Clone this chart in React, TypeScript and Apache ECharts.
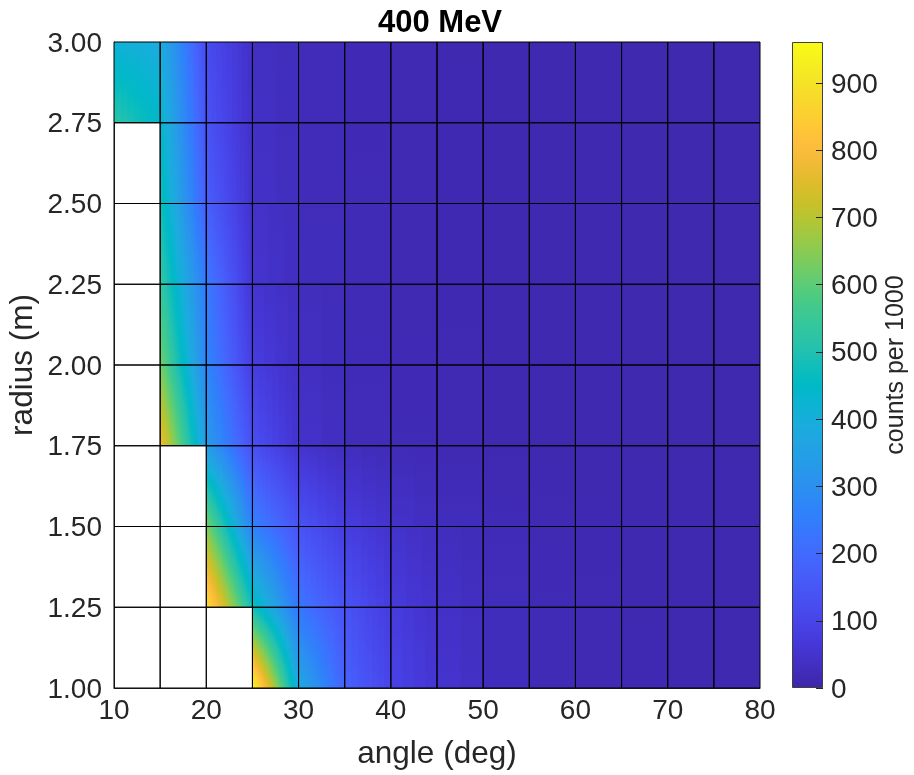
import React, { useEffect, useRef } from "react";
import * as echarts from "echarts";

// ---- data (vertex values, counts per 1000) ----
const angles = [10, 15, 20, 25, 30, 35, 40, 45, 50, 55, 60, 65, 70, 75, 80];
const radii = [1.0, 1.25, 1.5, 1.75, 2.0, 2.25, 2.5, 2.75, 3.0];
const N = null;
const r100 = [N, N, N, 960, 380, 180, 100, 55, 32, 22, 16, 13, 11, 10, 10];
const r125 = [N, N, 900, 480, 230, 140, 75, 45, 28, 20, 15, 12, 11, 10, 10];
const r150 = [N, N, 640, 260, 140, 80, 48, 30, 21, 16, 13, 11, 10, 10, 9];
const r175 = [N, 790, 340, 130, 50, 28, 19, 15, 12, 11, 10, 9, 9, 9, 9];
const r200 = [N, 630, 270, 80, 36, 22, 17, 14, 12, 11, 10, 9, 9, 9, 9];
const r225 = [N, 540, 240, 55, 30, 20, 16, 13, 12, 11, 10, 9, 9, 9, 9];
const r250 = [N, 480, 170, 45, 27, 19, 15, 13, 11, 10, 10, 9, 9, 9, 9];
const r275 = [520, 440, 140, 40, 25, 18, 15, 13, 11, 10, 10, 9, 9, 9, 9];
const r300 = [410, 390, 120, 38, 24, 18, 14, 12, 11, 10, 10, 9, 9, 9, 9];
const rows = [r100, r125, r150, r175, r200, r225, r250, r275, r300];
const cMax = 961;
const cbTicks = [0, 100, 200, 300, 400, 500, 600, 700, 800, 900];

// parula colormap (MATLAB)
const PARULA = [
  [0.2422,0.1504,0.6603],[0.2504,0.1650,0.7076],[0.2578,0.1818,0.7511],[0.2647,0.1978,0.7952],
  [0.2706,0.2147,0.8364],[0.2751,0.2342,0.8710],[0.2783,0.2559,0.8991],[0.2803,0.2782,0.9221],
  [0.2813,0.3006,0.9414],[0.2810,0.3228,0.9579],[0.2795,0.3447,0.9717],[0.2760,0.3667,0.9829],
  [0.2699,0.3892,0.9906],[0.2602,0.4123,0.9952],[0.2440,0.4358,0.9988],[0.2206,0.4603,0.9973],
  [0.1963,0.4847,0.9892],[0.1834,0.5074,0.9798],[0.1786,0.5289,0.9682],[0.1764,0.5499,0.9520],
  [0.1687,0.5703,0.9359],[0.1540,0.5902,0.9218],[0.1460,0.6091,0.9079],[0.1380,0.6276,0.8973],
  [0.1248,0.6459,0.8883],[0.1113,0.6635,0.8763],[0.0952,0.6798,0.8598],[0.0689,0.6948,0.8394],
  [0.0297,0.7082,0.8163],[0.0036,0.7203,0.7917],[0.0067,0.7312,0.7660],[0.0433,0.7411,0.7394],
  [0.0964,0.7500,0.7120],[0.1408,0.7584,0.6842],[0.1717,0.7670,0.6554],[0.1938,0.7758,0.6251],
  [0.2161,0.7843,0.5923],[0.2470,0.7918,0.5567],[0.2906,0.7973,0.5188],[0.3406,0.8008,0.4789],
  [0.3909,0.8029,0.4354],[0.4456,0.8024,0.3909],[0.5044,0.7993,0.3480],[0.5616,0.7942,0.3045],
  [0.6174,0.7876,0.2612],[0.6720,0.7793,0.2227],[0.7242,0.7698,0.1910],[0.7738,0.7598,0.1646],
  [0.8203,0.7498,0.1535],[0.8634,0.7406,0.1596],[0.9035,0.7330,0.1774],[0.9393,0.7288,0.2100],
  [0.9728,0.7298,0.2394],[0.9956,0.7434,0.2371],[0.9970,0.7659,0.2199],[0.9952,0.7893,0.2028],
  [0.9892,0.8136,0.1885],[0.9786,0.8386,0.1766],[0.9676,0.8639,0.1643],[0.9610,0.8890,0.1537],
  [0.9597,0.9135,0.1423],[0.9628,0.9373,0.1265],[0.9691,0.9606,0.1064],[0.9769,0.9839,0.0805],
];

function cmapT(t: number) {
  t = Math.max(0, Math.min(1, t));
  const p = t * (PARULA.length - 1);
  const i = Math.min(Math.floor(p), PARULA.length - 2);
  const f = p - i;
  const a = PARULA[i], b = PARULA[i + 1];
  const c = [0, 1, 2].map((k) => Math.round(255 * (a[k] + (b[k] - a[k]) * f)));
  return `rgb(${c[0]},${c[1]},${c[2]})`;
}
const cmap = (v: number) => cmapT(v / cMax);

const cells: number[][] = [];
for (let j = 0; j < radii.length - 1; j++) {
  for (let i = 0; i < angles.length - 1; i++) {
    cells.push([angles[i], radii[j], angles[i + 1], radii[j + 1], i, j]);
  }
}

const FONT = "'Liberation Sans', Arial, Helvetica, sans-serif";
const TXT = "#262626";

export default function App() {
  const ref = useRef<HTMLDivElement>(null);
  useEffect(() => {
    if (!ref.current) return;
    const chart = echarts.init(ref.current, undefined, { renderer: "svg" });

    const fillItem = (params: any, api: any) => {
      const a0 = api.value(0), r0 = api.value(1), a1 = api.value(2), r1 = api.value(3);
      const i = api.value(4), j = api.value(5);
      const v00 = rows[j][i], v10 = rows[j][i + 1], v01 = rows[j + 1][i], v11 = rows[j + 1][i + 1];
      if (v00 == null || v10 == null || v01 == null || v11 == null) return null;
      const p0 = api.coord([a0, r0]);
      const p1 = api.coord([a1, r1]);
      const x0 = p0[0], yb = p0[1], x1 = p1[0], yt = p1[1];
      const dx = Math.max(Math.abs(v10 - v00), Math.abs(v11 - v01));
      const ns = Math.max(1, Math.min(28, Math.ceil(dx / 12)));
      const w = (x1 - x0) / ns;
      const children: any[] = [];
      for (let k = 0; k < ns; k++) {
        const s = (k + 0.5) / ns;
        const vb = v00 + (v10 - v00) * s;
        const vt = v01 + (v11 - v01) * s;
        const m = Math.max(2, Math.min(14, Math.ceil(Math.abs(vt - vb) / 30)));
        const stops = [];
        for (let q = 0; q <= m; q++) {
          const t = q / m;
          stops.push({ offset: t, color: cmap(vb + (vt - vb) * t) });
        }
        children.push({
          type: "rect",
          shape: { x: x0 + k * w, y: yt, width: w + (k < ns - 1 ? 0.8 : 0), height: yb - yt },
          style: { fill: new echarts.graphic.LinearGradient(0, 1, 0, 0, stops) },
        });
      }
      return { type: "group", children };
    };

    const edgeItem = (params: any, api: any) => {
      const p0 = api.coord([api.value(0), api.value(1)]);
      const p1 = api.coord([api.value(2), api.value(3)]);
      return {
        type: "rect",
        shape: { x: p0[0], y: p1[1], width: p1[0] - p0[0], height: p0[1] - p1[1] },
        style: { fill: "none", stroke: "#000", lineWidth: 1 },
      };
    };

    const cbStops = [];
    for (let q = 0; q <= 32; q++) cbStops.push({ offset: q / 32, color: cmapT(q / 32) });

    chart.setOption({
      animation: false,
      textStyle: { fontFamily: FONT },
      title: {
        text: "400 MeV",
        left: 435,
        textAlign: "center",
        top: 1,
        textStyle: { fontFamily: FONT, fontSize: 31, fontWeight: "bold", color: "#000" },
      },
      grid: [
        { left: 114, top: 42, width: 646, height: 646, outerBoundsMode: "none", containLabel: false },
        { left: 792, top: 42, width: 31, height: 646, outerBoundsMode: "none", containLabel: false },
      ],
      xAxis: [
        {
          type: "value",
          gridIndex: 0,
          min: 10,
          max: 80,
          interval: 10,
          name: "angle (deg)",
          nameLocation: "middle",
          nameGap: 48,
          nameTextStyle: { fontSize: 31.5, color: TXT, fontFamily: FONT },
          axisLine: { show: true, onZero: false, lineStyle: { color: TXT } },
          axisTick: { show: false },
          splitLine: { show: false },
          axisLabel: { fontSize: 28, color: TXT, margin: 7, fontFamily: FONT },
        },
        {
          type: "category",
          gridIndex: 1,
          data: ["c"],
          show: false,
        },
      ],
      yAxis: [
        {
          type: "value",
          gridIndex: 0,
          min: 1,
          max: 3,
          interval: 0.25,
          name: "radius (m)",
          nameLocation: "middle",
          nameGap: 69,
          nameTextStyle: { fontSize: 31.5, color: TXT, fontFamily: FONT },
          axisLine: { show: true, onZero: false, lineStyle: { color: TXT } },
          axisTick: { show: false },
          splitLine: { show: false },
          axisLabel: {
            fontSize: 28,
            color: TXT,
            margin: 12,
            fontFamily: FONT,
            formatter: (v: number) => v.toFixed(2),
          },
        },
        {
          type: "value",
          gridIndex: 1,
          position: "right",
          min: 0,
          max: cMax,
          z: 10,
          name: "counts per 1000",
          nameLocation: "middle",
          nameRotate: 90,
          nameGap: 58,
          nameTextStyle: { fontSize: 25, color: TXT, fontFamily: FONT },
          axisLine: { show: false },
          axisTick: {
            show: true,
            inside: true,
            length: 7,
            customValues: cbTicks,
            lineStyle: { color: TXT },
          },
          splitLine: { show: false },
          axisLabel: {
            fontSize: 28,
            color: TXT,
            margin: 8,
            fontFamily: FONT,
            customValues: cbTicks,
          },
        },
      ],
      series: [
        {
          type: "custom",
          xAxisIndex: 0,
          yAxisIndex: 0,
          silent: true,
          renderItem: fillItem,
          encode: { x: [0, 2], y: [1, 3] },
          data: cells,
          z: 2,
        },
        {
          type: "custom",
          xAxisIndex: 0,
          yAxisIndex: 0,
          silent: true,
          renderItem: edgeItem,
          encode: { x: [0, 2], y: [1, 3] },
          data: cells,
          z: 3,
        },
        {
          type: "bar",
          xAxisIndex: 1,
          yAxisIndex: 1,
          silent: true,
          barWidth: "100%",
          z: 1,
          data: [cMax],
          itemStyle: {
            color: new echarts.graphic.LinearGradient(0, 1, 0, 0, cbStops),
            borderColor: "#404040",
            borderWidth: 1,
          },
        },
      ],
    });
    return () => chart.dispose();
  }, []);
  return (
    <div
      ref={ref}
      style={{ position: "fixed", left: 0, top: 0, width: 914, height: 775 }}
    />
  );
}
